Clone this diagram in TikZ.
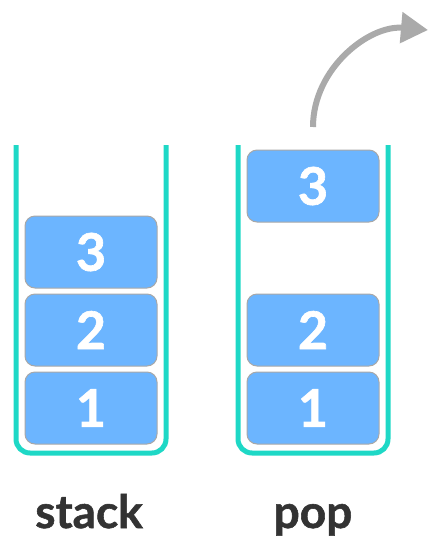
\documentclass[tikz,border=0pt]{standalone}
\usepackage{fontspec}
\setmainfont{Lato}
\newfontfamily\heavy[BoldFeatures={FakeBold=1.2}]{Lato}
\usetikzlibrary{arrows.meta}
\definecolor{cupc}{HTML}{1ED8C6}
\definecolor{boxc}{HTML}{6CB5FF}
\definecolor{edgec}{HTML}{A8A8A8}
\definecolor{arrc}{HTML}{AAAAAA}
\definecolor{txtc}{HTML}{333333}
\tikzset{bx/.style={draw=edgec,line width=1pt,fill=boxc,rounded corners=10pt,minimum width=132pt,minimum height=72pt,inner sep=0pt,text=white,font=\heavy\fontsize{52}{52}\selectfont\bfseries}}
\tikzset{cup/.style={draw=cupc,line width=5pt,rounded corners=14pt}}
\tikzset{lb/.style={anchor=base,text=txtc,font=\heavy\fontsize{46}{46}\selectfont\bfseries}}

\begin{document}
\begin{tikzpicture}[x=1pt,y=-1pt]
                \useasboundingbox (0,0) rectangle (430,558);
                % stack
                \draw[cup] (16,145) -- (16,453) -- (166,453) -- (166,145);
                \node[bx] (s1) at (91,408) {1};
                \node[bx] (s2) at (91,330) {2};
                \node[bx] (s3) at (91,252) {3};
                \node[lb] (stk) at (89,528) {stack};
                % pop
                \draw[cup] (238,145) -- (238,453) -- (388,453) -- (388,145);
                \node[bx] (p1) at (313,408) {1};
                \node[bx] (p2) at (313,330) {2};
                \node[bx] (p3) at (313,186) {3};
                \node[lb] (pop) at (313,528) {pop};
                \coordinate (out) at (313,127);
                \coordinate (tip) at (428,30);
                \draw[arrc,line width=6pt,-{Triangle[length=27pt,width=30pt]}] (out) to[out=90,in=175] (tip);
            \end{tikzpicture}
\end{document}
